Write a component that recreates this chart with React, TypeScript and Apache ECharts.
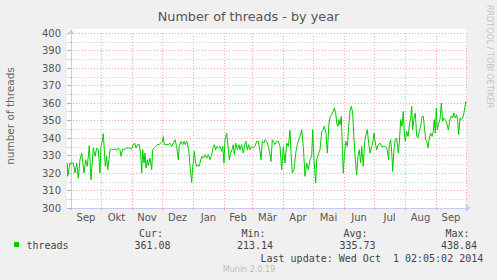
import React, { useEffect, useRef } from "react";
import * as echarts from "echarts";

// day 0 = 1 Sep 2013
const monthStarts = [0, 30, 61, 91, 122, 153, 181, 212, 242, 273, 303, 334, 365, 395];
const monthLabels = ["Sep", "Okt", "Nov", "Dez", "Jan", "Feb", "Mär", "Apr", "Mai", "Jun", "Jul", "Aug", "Sep"];
const yTicks = { min: 300, max: 400, step: 10 };

const autumn2013 = [[-3.7,325.7],[-3.3,318.1],[-1,325.7],[2.3,325.7],[4,320],[5.7,325.7],[7.3,317.1],[9,327.6],[10.7,331.4],[13,320],[14.7,327.6],[16.3,323.8],[18.3,335.6],[20,316.2],[22.3,334.3],[24,329.5],[25.7,334.3],[27.3,333.3],[29,320],[30,335.2],[31.3,338.1],[32.3,342.5],[33.3,333.3],[34.3,323.8],[35.7,329.5],[36.7,321.9],[38,327.6],[39,333.3],[40.7,333.7],[42.3,333.3],[44,333.7],[45.7,332.9],[47.3,334.3],[49,333.3],[50,329.5],[51.7,333.7],[53.3,333.3],[55,334.3],[57.3,334.3],[59,334.3],[60.7,333.7],[62.3,336.2],[63.7,337.1],[65,334.3],[66.7,336.2],[68.3,336.2],[69.7,330.5],[70.7,320],[71.7,333.3],[73,325.7],[74,331.4],[75,322.8],[76.3,327.6],[77.3,324.2],[79,328.5],[80.7,321.9],[81.7,333.3],[83,334.3],[84.7,335.2],[86.3,336.2],[88,336.2],[89.7,337.1]];
const winter = [[91.3,338.1],[92.3,340.9],[93.3,336.2],[95,336.2],[97.3,336.2],[99,337.1],[100.7,335.2],[102.3,337.1],[104,339],[105.7,335.2],[107.3,327.6],[108.3,335.2],[110,338.1],[111.7,336.2],[113,338.1],[114.3,336.2],[115.7,338.1],[116.7,336.2],[118,331.4],[119,323.8],[120,319],[120.7,314.6],[121.7,323.8],[122.3,325.7],[123.3,332.4],[124.7,325.7],[125.7,323.8],[126.7,324.7],[128,323.8],[129,325.7],[130.7,329.5],[132.3,328.5],[134,330.5],[135.7,328.5],[137.3,330.5],[139,327.6],[140.7,330.5],[142.3,335.2],[143.3,336.2],[144.7,333.3],[145.7,335.2],[147.3,334.3],[149,335.2],[150.7,332.4],[151.7,335.2],[153,325.7],[154,339],[155.7,342.8],[156.7,337.1],[158.3,327.6],[159.7,331.4],[161,333.3],[162.3,336.2],[163.3,330.5],[164.7,337.1],[166.3,333.3],[168,336.2],[169,333.3],[170.7,336.2],[172.3,331.4],[174,337.1],[175,338.1],[176.3,333.3],[177.7,336.2],[179,333.3]];
const spring2014 = [[180.7,335.2],[182.3,334.3],[184,335.2],[185.7,338.1],[187.3,338.1],[189,332.4],[190,327.6],[191.3,338.1],[193,337.1],[194,339],[195.7,338.1],[197.3,335.2],[199,330.5],[200,326.6],[201.3,339],[202.3,338.1],[204,336.2],[205.7,338.1],[207.3,338.1],[209,335.2],[210.7,321.9],[212.3,335.2],[214,325.7],[215.7,337.1],[217.3,335.2],[219,344.4],[220,331.4],[221.3,320],[223,321.9],[224.7,331.4],[226.3,336.2],[227.7,339],[229,340.9],[230.7,344.7],[232.3,335.2],[234,318.1],[235.7,325.7],[237.3,321.9],[239,327.6],[240.7,329.5],[241.7,344.7],[243,327.6],[244.7,314.3],[245.7,327.6],[247.3,330.5],[249,333.3],[250.7,343.8],[252.3,344.7],[253.3,346.7],[255,342.8],[256.3,331.4],[258,348.6],[259.3,352.4],[260.7,353.3],[262.3,355.2],[263.3,357.1],[264.7,354.3],[265.7,348.6],[267,346.7],[268,350.5],[269,347.6],[270.3,352.4],[271.3,335.2]];
const summer2014 = [[272.3,320],[273.3,329.5],[274.7,338.1],[276.3,335.2],[277.7,346.7],[279,355.2],[280.3,358.1],[281.7,354.3],[283,339],[284.3,327.6],[285.7,319],[287,329.5],[288.3,333.3],[289.7,325.7],[290.7,335.2],[292.3,323.8],[293.7,338.1],[295,341.9],[296.3,344.7],[297.7,337.1],[299,331.4],[300.3,334.3],[301.7,337.1],[303,342.8],[304.3,337.1],[305.7,333.3],[307.3,336.2],[309,337.1],[310.7,335.2],[312.3,335.2],[314,335.2],[315.7,334.3],[316.7,331.4],[317.7,327.6],[318.3,336.2],[319.7,339],[321,329.5],[321.7,320.9],[323,333.3],[324.3,339],[325.7,340],[327.3,331.4],[328.3,337.1],[329.7,350.5],[331,346.7],[332.3,355.2],[333.3,342.8],[334.3,338.1],[335.7,343.8],[337,340.9],[338.3,346.7],[339.7,351.4],[340.7,358.1],[341.7,344.7],[343,351.4],[344.3,354.3],[345.7,340.9],[347,340],[348.3,343.8],[349.7,346.7],[351,352.4],[352.3,352.4],[353.3,346.7],[354.7,339],[355.7,338.1],[357,334.3],[358.3,340],[359.7,342.8],[361,340.9],[362.3,343.8],[363.3,350.5],[364.3,342.8],[365.3,357.1],[366.3,344.7],[367.3,347.6],[369,350.5],[370.3,360],[371.7,349.5],[373,351.4],[374.3,350.5],[375.7,348.6],[377.3,344.7],[379,350.5],[380.3,352.7],[381.7,351.4],[383,354.3],[384.3,351.4],[385.7,353.3],[386.7,349.5],[387.7,341.9],[389,351.4],[390.3,350.5],[391.7,351.4],[393,354.3],[394,358.1],[394.7,361]];

const statHeaders = ["Cur:", "Min:", "Avg:", "Max:"];
const statValues = ["361.08", "213.14", "335.73", "438.84"];
const seriesName = "threads";
const lastUpdate = "Last update: Wed Oct  1 02:05:02 2014";

const mono = "DejaVu Sans Mono";
const sans = "DejaVu Sans";

export default function App() {
  const ref = useRef<HTMLDivElement>(null);
  useEffect(() => {
    if (!ref.current) return;
    const chart = echarts.init(ref.current, null, { renderer: "svg" });
    const monthMids = monthLabels.map((_, i) => (monthStarts[i] + monthStarts[i + 1]) / 2);
    const data = [...autumn2013, ...winter, ...spring2014, ...summer2014];
    const statRight = [163, 265.5, 367.5, 469.5];
    const valRight = [170.5, 273, 375.5, 477];
    const graphics: any[] = [
      { type: "rect", z: -1, shape: { x: 67, y: 29, width: 400, height: 179 }, style: { fill: "#ffffff" }, silent: true },
      { type: "text", x: 10, y: 116, rotation: Math.PI / 2, style: { text: "number of threads", font: `10.5px '${sans}'`, fill: "#666", textAlign: "center", textVerticalAlign: "middle" } },
      { type: "text", x: 489, y: 5, rotation: -Math.PI / 2, style: { text: "RRDTOOL / TOBI OETIKER", font: `8px '${sans}'`, fill: "#c4c4c4", textAlign: "left", textVerticalAlign: "middle" } },
      { type: "rect", shape: { x: 14, y: 242, width: 5, height: 5 }, style: { fill: "#00cc00" } },
      { type: "text", x: 26.5, y: 245, style: { text: seriesName, font: `10px '${mono}'`, fill: "#444", textAlign: "left", textVerticalAlign: "middle" } },
      { type: "text", x: 260.5, y: 258, style: { text: lastUpdate, font: `10px '${mono}'`, fill: "#444", textAlign: "left", textVerticalAlign: "middle" } },
      { type: "text", x: 249, y: 269.5, style: { text: "Munin 2.0.19", font: `8px '${sans}'`, fill: "#bdbdbd", textAlign: "center", textVerticalAlign: "middle" } },
    ];
    statHeaders.forEach((h, i) => {
      graphics.push({ type: "text", x: statRight[i], y: 233.5, style: { text: h, font: `10px '${mono}'`, fill: "#444", textAlign: "right", textVerticalAlign: "middle" } });
      graphics.push({ type: "text", x: valRight[i], y: 245.5, style: { text: statValues[i], font: `10px '${mono}'`, fill: "#444", textAlign: "right", textVerticalAlign: "middle" } });
    });
    chart.setOption({
      animation: false,
      backgroundColor: "#f0f0f0",
      title: {
        text: "Number of threads - by year",
        left: "center",
        top: 5,
        textStyle: { fontFamily: sans, fontSize: 12.8, fontWeight: "normal", color: "#555" },
      },
      grid: { left: 67, right: 30, top: 33, bottom: 72, containLabel: false },
      xAxis: {
        type: "value",
        min: -4,
        max: 396,
        axisLine: { show: true, symbol: ["none", "arrow"], symbolSize: [6, 6], symbolOffset: [0, 4], lineStyle: { color: "#c8c8f4", width: 1 } },
        axisTick: { show: true, customValues: monthStarts, length: 2, lineStyle: { color: "#f0a0a0" } },
        axisLabel: {
          customValues: monthMids,
          formatter: (v: number) => {
            const i = monthMids.findIndex((m) => Math.abs(m - v) < 0.01);
            return i >= 0 ? monthLabels[i] : "";
          },
          fontFamily: sans,
          fontSize: 10,
          color: "#555",
          margin: 4,
        },
        splitLine: { show: true, lineStyle: { color: "#f4a8a8", type: [1, 2], width: 1 } },
      },
      yAxis: {
        type: "value",
        min: yTicks.min,
        max: yTicks.max,
        interval: yTicks.step,
        axisLine: { show: true, symbol: ["none", "arrow"], symbolSize: [6, 6], symbolOffset: [0, 4], lineStyle: { color: "#c8c8f4", width: 1 } },
        axisTick: { show: true, length: 3, lineStyle: { color: "#b0b0b0" } },
        minorTick: { show: true, splitNumber: 2, length: 2, lineStyle: { color: "#c0c0c0" } },
        axisLabel: { fontFamily: sans, fontSize: 10, color: "#555", margin: 6 },
        splitLine: { show: true, lineStyle: { color: "#f4a8a8", type: [1, 2], width: 1 } },
        minorSplitLine: { show: true, lineStyle: { color: "#d0d0d0", type: [1, 2], width: 1 } },
      },
      graphic: graphics,
      series: [
        {
          name: seriesName,
          type: "line",
          data,
          showSymbol: false,
          symbol: "none",
          lineStyle: { color: "#00cc00", width: 1 },
          itemStyle: { color: "#00cc00" },
          silent: true,
        },
      ],
    });
    return () => chart.dispose();
  }, []);
  return <div ref={ref} style={{ position: "fixed", left: 0, top: 0, width: 497, height: 280 }} />;
}
